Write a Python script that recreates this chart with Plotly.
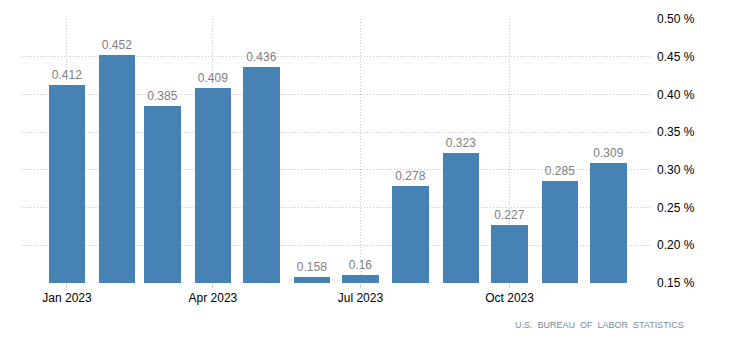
import plotly.graph_objects as go

# Monthly values for 2023 (percent)
months = ["2023-01-01", "2023-02-01", "2023-03-01", "2023-04-01", "2023-05-01", "2023-06-01",
          "2023-07-01", "2023-08-01", "2023-09-01", "2023-10-01", "2023-11-01", "2023-12-01"]
values = [0.412, 0.452, 0.385, 0.409, 0.436, 0.158, 0.16, 0.278, 0.323, 0.227, 0.285, 0.309]

x_tick_vals = ["2023-01-01", "2023-04-01", "2023-07-01", "2023-10-01"]
x_tick_text = ["Jan 2023", "Apr 2023", "Jul 2023", "Oct 2023"]
y_tick_vals = [0.15, 0.20, 0.25, 0.30, 0.35, 0.40, 0.45, 0.50]
y_tick_text = [f"{v:.2f} %" for v in y_tick_vals]
source_text = "U.S.  BUREAU  OF  LABOR  STATISTICS"

BAR_COLOR = "#4682b4"
FONT = "Liberation Sans"
DAY_MS = 86400000

fig = go.Figure(
    go.Bar(
        x=months,
        y=values,
        width=22.5 * DAY_MS,
        marker=dict(color=BAR_COLOR, line=dict(width=0)),
        text=[str(v) for v in values],
        textposition="outside",
        textfont=dict(family=FONT, size=12, color="#808080"),
        cliponaxis=False,
        hoverinfo="x+y",
    )
)

fig.update_layout(
    width=730,
    height=347,
    margin=dict(l=22, r=78, t=19, b=64),
    plot_bgcolor="white",
    paper_bgcolor="white",
    showlegend=False,
    bargap=0,
    font=dict(family=FONT, size=12, color="#000000"),
    xaxis=dict(
        type="date",
        range=["2022-12-04 06:00", "2023-12-27 20:00"],
        tickvals=x_tick_vals,
        ticktext=x_tick_text,
        showgrid=True,
        gridcolor="#c8c8c8",
        griddash="1px,2px",
        gridwidth=1,
        ticks="outside",
        ticklen=4,
        tickcolor="#cccccc",
        showline=False,
        zeroline=False,
        tickfont=dict(family=FONT, size=12, color="#000000"),
    ),
    yaxis=dict(
        side="right",
        range=[0.15, 0.50],
        tickvals=y_tick_vals,
        ticktext=y_tick_text,
        showgrid=True,
        gridcolor="#c8c8c8",
        griddash="1px,2px",
        gridwidth=1,
        zeroline=False,
        showline=False,
        ticks="",
        ticklabelstandoff=4,
        tickfont=dict(family=FONT, size=12, color="#000000"),
    ),
    annotations=[
        dict(
            text=source_text,
            xref="paper",
            yref="paper",
            x=(686 - 22) / 630,
            y=(283 - 325) / 264,
            xanchor="right",
            yanchor="middle",
            showarrow=False,
            font=dict(family=FONT, size=9, color="#7b8a9c"),
        )
    ],
)

fig.write_html("out.html")
